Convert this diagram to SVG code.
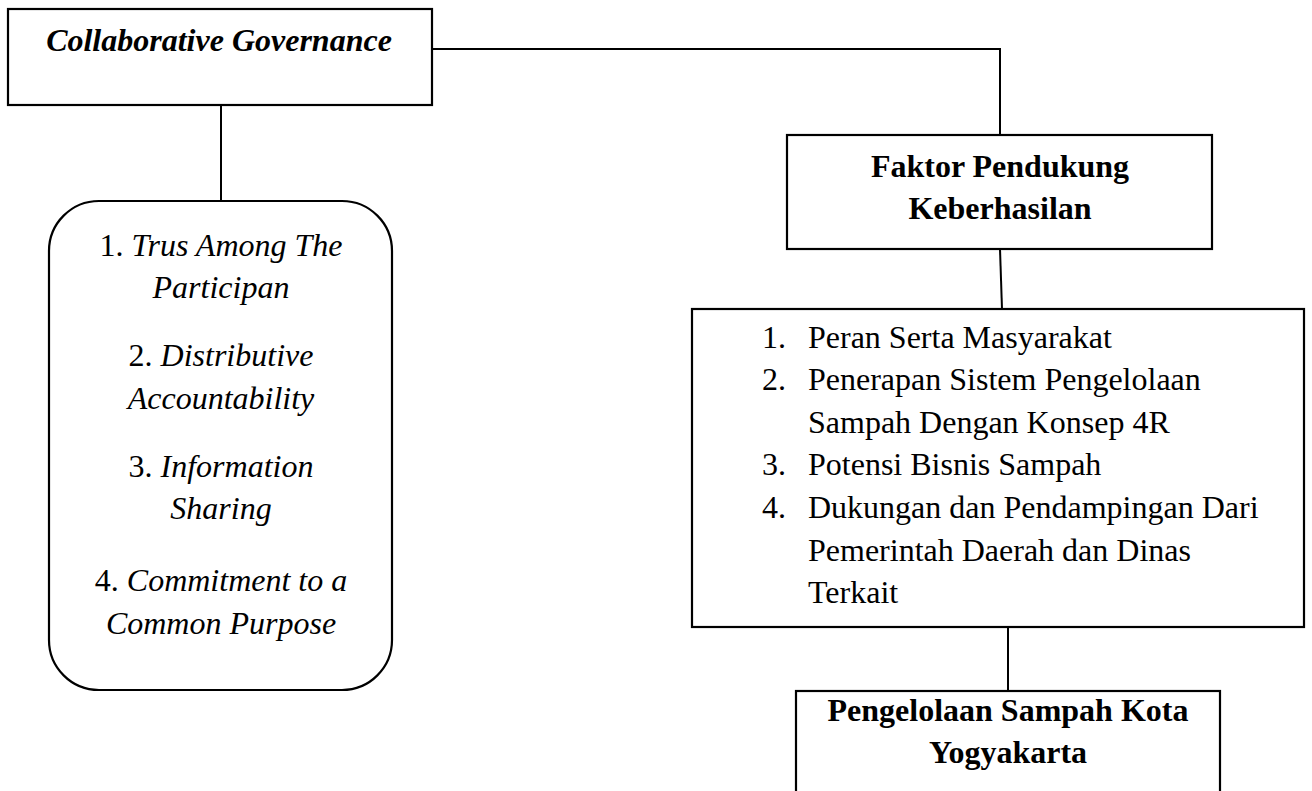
<svg xmlns="http://www.w3.org/2000/svg" width="1312" height="791" viewBox="0 0 1312 791">
<style>
.box{fill:#fff;stroke:#000;stroke-width:2.2}
.ln{fill:none;stroke:#000;stroke-width:2}
text{font-family:"Liberation Serif","Times New Roman",serif;font-size:32px;fill:#000}
.c{text-anchor:middle}
.b{font-weight:bold}
.i{font-style:italic}
</style>
<rect width="1312" height="791" fill="#fff"/>
<g id="connectors">
<path class="ln" d="M432,49 H1000 V135"/>
<path class="ln" d="M221,105 V201"/>
<path class="ln" d="M1000,249 L1002,309"/>
<path class="ln" d="M1008,627 V691"/>
</g>
<g id="collab">
<rect class="box" x="8" y="9" width="424" height="96"/>
<text class="c b i" x="219" y="51">Collaborative Governance</text>
</g>
<g id="dimensions">
<rect class="box" x="49" y="201" width="343" height="489" rx="50" ry="50"/>
<text class="c" x="221" y="256">1. <tspan class="i">Trus Among The</tspan></text>
<text class="c i" x="221" y="298">Participan</text>
<text class="c" x="221" y="366">2. <tspan class="i">Distributive</tspan></text>
<text class="c i" x="221" y="409">Accountability</text>
<text class="c" x="221" y="477">3. <tspan class="i">Information</tspan></text>
<text class="c i" x="221" y="519">Sharing</text>
<text class="c" x="221" y="591">4. <tspan class="i">Commitment to a</tspan></text>
<text class="c i" x="221" y="634">Common Purpose</text>
</g>
<g id="faktor">
<rect class="box" x="787" y="135" width="425" height="114"/>
<text class="c b" x="1000" y="177">Faktor Pendukung</text>
<text class="c b" x="1000" y="219">Keberhasilan</text>
</g>
<g id="list">
<rect class="box" x="692" y="309" width="612" height="318"/>
<text x="762" y="348">1.</text><text x="808" y="348">Peran Serta Masyarakat</text>
<text x="762" y="390">2.</text><text x="808" y="390">Penerapan Sistem Pengelolaan</text>
<text x="808" y="433">Sampah Dengan Konsep 4R</text>
<text x="762" y="475">3.</text><text x="808" y="475">Potensi Bisnis Sampah</text>
<text x="762" y="518">4.</text><text x="808" y="518">Dukungan dan Pendampingan Dari</text>
<text x="808" y="561">Pemerintah Daerah dan Dinas</text>
<text x="808" y="603">Terkait</text>
</g>
<g id="pengelolaan">
<rect class="box" x="796" y="691" width="424" height="120"/>
<text class="c b" x="1008" y="721">Pengelolaan Sampah Kota</text>
<text class="c b" x="1008" y="763">Yogyakarta</text>
</g>
</svg>
